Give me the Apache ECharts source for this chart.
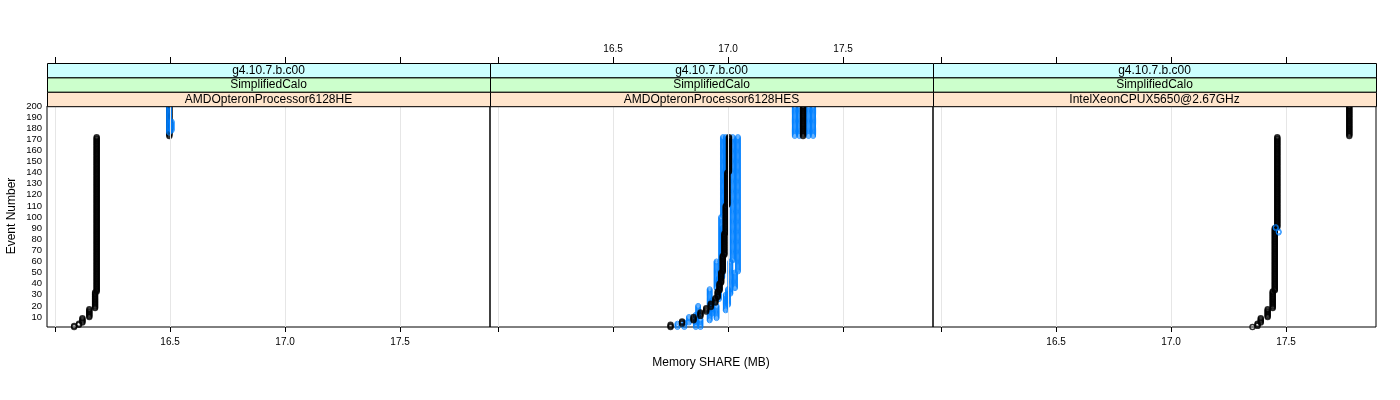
<!DOCTYPE html>
<html>
<head>
<meta charset="utf-8">
<script src="https://cdn.jsdelivr.net/npm/echarts@6/dist/echarts.min.js"></script>
<style>
  html, body { margin: 0; padding: 0; background: #fff; }
  #chart { width: 1400px; height: 400px; }
</style>
</head>
<body>
<div id="chart"></div>
<script>
// strip labels, one per panel
const versions = ["g4.10.7.b.c00", "g4.10.7.b.c00", "g4.10.7.b.c00"];
const tests = ["SimplifiedCalo", "SimplifiedCalo", "SimplifiedCalo"];
const cpus = ["AMDOpteronProcessor6128HE", "AMDOpteronProcessor6128HES", "IntelXeonCPUX5650@2.67GHz"];

const xTicks = [16.0, 16.5, 17.0, 17.5];
const xLabels = [16.5, 17.0, 17.5];
const yTicks = [10, 20, 30, 40, 50, 60, 70, 80, 90, 100, 110, 120, 130, 140, 150, 160, 170, 180, 190, 200];

// runs of events with the same memory value: [firstEvent, lastEvent, MB]
const p1Black = [[1, 2, 16.083], [3, 4, 16.104], [5, 9, 16.119], [10, 17, 16.149], [18, 32, 16.174], [33, 172, 16.181], [173, 200, 16.497]];
const p1BlueA = [[176, 200, 16.496]];
const p1BlueB = [[178, 186, 16.507]];

const p2Black = [[1, 3, 16.75], [4, 6, 16.80], [7, 10, 16.85], [11, 14, 16.88], [15, 18, 16.905], [19, 22, 16.925], [23, 27, 16.945], [28, 33, 16.955], [34, 40, 16.963], [41, 50, 16.97], [51, 65, 16.977], [66, 85, 16.984], [86, 110, 16.99], [111, 140, 16.997], [141, 172, 17.004], [173, 200, 17.326]];
const p2BlueA = [[1, 4, 16.78], [5, 10, 16.83], [11, 20, 16.87], [21, 35, 16.92], [36, 60, 16.95], [61, 100, 16.97], [101, 172, 16.978], [173, 200, 17.29]];
const p2BlueB = [[1, 5, 16.81], [6, 12, 16.86], [13, 25, 16.93], [26, 45, 16.96], [46, 90, 16.975], [91, 172, 16.99], [173, 200, 17.31]];
const p2BlueC = [[1, 6, 16.86], [7, 15, 16.92], [16, 30, 16.99], [31, 60, 17.01], [61, 172, 17.02], [173, 200, 17.35]];
const p2BlueD = [[1, 8, 16.88], [9, 20, 16.95], [21, 35, 17.0], [36, 50, 17.03], [51, 172, 17.043], [173, 200, 17.37]];

const p3Black = [[1, 1, 17.354], [2, 4, 17.376], [5, 9, 17.390], [10, 17, 17.42], [18, 33, 17.442], [34, 90, 17.451], [91, 172, 17.462], [173, 200, 17.775]];
const p3Blue = [[86, 87, 17.468], [90, 91, 17.455]];

function expand(runs) {
  const pts = [];
  runs.forEach(([a, b, v]) => {
    for (let e = a; e <= b; e++) pts.push([v, e]);
  });
  return pts;
}

const panels = [
  { black: p1Black, blue: [p1BlueA, p1BlueB], blackOnTop: false },
  { black: p2Black, blue: [p2BlueA, p2BlueB, p2BlueC, p2BlueD], blackOnTop: true },
  { black: p3Black, blue: [p3Blue], blackOnTop: false },
];

const lefts = [47, 490, 933];
const pw = 443, gTop = 106, ph = 221;
const stripH = 14.4;
const font = "Liberation Sans, Arial, sans-serif";

const grids = [], xAxes = [], yAxes = [], series = [], graphics = [];

panels.forEach((p, i) => {
  grids.push({ left: lefts[i], top: gTop, width: pw, height: ph, show: true, borderColor: "#000", borderWidth: 1, backgroundColor: "transparent" });
  // bottom axis
  xAxes.push({
    type: "value", gridIndex: i, min: 15.965, max: 17.891, position: "bottom",
    axisLine: { show: false },
    axisTick: { show: true, inside: false, length: 5, customValues: xTicks, lineStyle: { color: "#000" } },
    axisLabel: { show: i !== 1, customValues: xLabels, margin: 10, fontSize: 10, color: "#000", fontFamily: font,
      formatter: v => v.toFixed(1) },
    splitLine: { show: false },
  });
  yAxes.push({
    type: "value", gridIndex: i, min: 1, max: 200,
    axisLine: { show: false }, axisTick: { show: false },
    axisLabel: { show: i === 0, customValues: yTicks, margin: 5, fontSize: 9.5, color: "#000", fontFamily: font },
    splitLine: { show: false },
  });
});
// top axes, above the strips
panels.forEach((p, i) => {
  xAxes.push({
    type: "value", gridIndex: i, min: 15.965, max: 17.891, position: "top", offset: 43,
    axisLine: { show: false },
    axisTick: { show: true, inside: false, length: 6, customValues: xTicks, lineStyle: { color: "#000" } },
    axisLabel: { show: i === 1, customValues: xLabels, margin: 9, fontSize: 10, color: "#000", fontFamily: font,
      formatter: v => v.toFixed(1) },
    splitLine: { show: false },
  });
});

panels.forEach((p, i) => {
  // grid lines
  series.push({
    type: "scatter", xAxisIndex: i, yAxisIndex: i, data: [], z: 1, silent: true,
    markLine: {
      silent: true, symbol: "none", animation: false, label: { show: false },
      lineStyle: { color: "#e6e6e6", width: 1, type: "solid" },
      data: xTicks.map(v => ({ xAxis: v })),
    },
  });
  series.push({
    type: "scatter", xAxisIndex: i, yAxisIndex: i, z: p.blackOnTop ? 4 : 2,
    data: expand(p.black), symbol: "circle", symbolSize: 5,
    itemStyle: { color: "transparent", borderColor: "#000", borderWidth: 1.4 },
  });
  p.blue.forEach(b => {
    series.push({
      type: "scatter", xAxisIndex: i, yAxisIndex: i, z: 3,
      data: expand(b), symbol: "circle", symbolSize: 5,
      itemStyle: { color: "transparent", borderColor: "#0080ff", borderWidth: 1 },
    });
  });

  // strips
  const rows = [
    { txt: versions[i], col: "#ccffff" },
    { txt: tests[i], col: "#ccffcc" },
    { txt: cpus[i], col: "#ffe5cc" },
  ];
  rows.forEach((r, k) => {
    const y0 = 63 + k * stripH;
    graphics.push({
      type: "rect", shape: { x: lefts[i] + 0.5, y: y0 + 0.5, width: pw, height: stripH },
      style: { fill: r.col, stroke: "#000", lineWidth: 1 }, z: 10,
    });
    graphics.push({
      type: "text", x: lefts[i] + pw / 2, y: y0 + stripH / 2 + 0.5,
      style: { text: r.txt, fill: "#000", font: "12px " + font, textAlign: "center", textVerticalAlign: "middle" }, z: 11,
    });
  });
});

graphics.push({
  type: "text", x: 711, y: 363,
  style: { text: "Memory SHARE (MB)", fill: "#000", font: "12px " + font, textAlign: "center", textVerticalAlign: "middle" },
});
graphics.push({
  type: "text", x: 12, y: 216, rotation: Math.PI / 2,
  style: { text: "Event Number", fill: "#000", font: "12px " + font, textAlign: "center", textVerticalAlign: "middle" },
});

const chart = echarts.init(document.getElementById("chart"), null, { renderer: "canvas" });
chart.setOption({
  animation: false,
  backgroundColor: "#fff",
  grid: grids,
  xAxis: xAxes,
  yAxis: yAxes,
  series: series,
  graphic: graphics,
});
</script>
</body>
</html>
